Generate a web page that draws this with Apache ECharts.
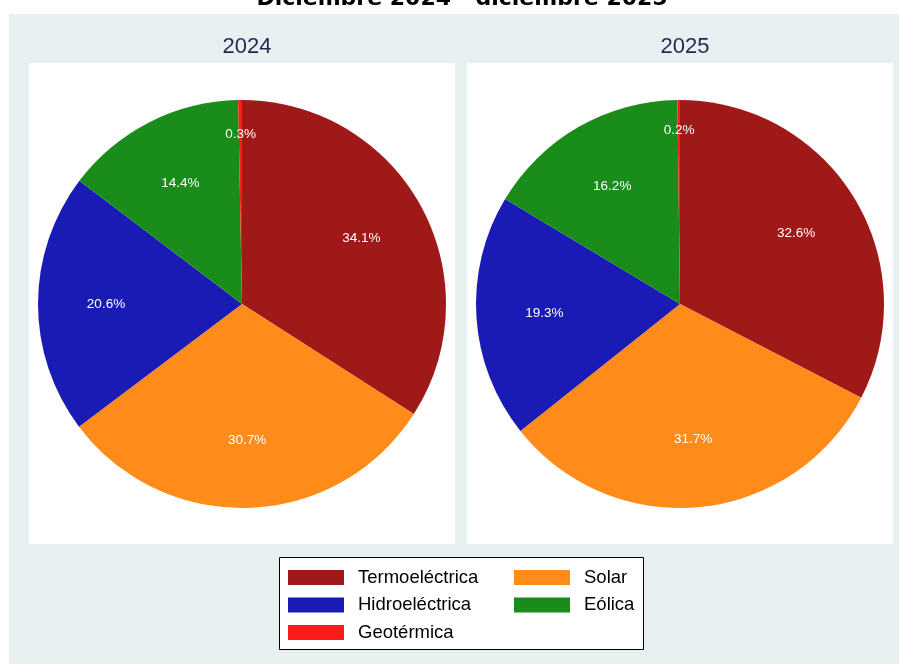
<!DOCTYPE html>
<html>
<head>
<meta charset="utf-8">
<script src="https://cdn.jsdelivr.net/npm/echarts@6/dist/echarts.min.js"></script>
<style>
  html, body { margin: 0; padding: 0; background: #fff; }
  #chart { width: 899px; height: 664px; }
</style>
</head>
<body>
<div id="chart"></div>
<script>
// datos
var years = ['2024', '2025'];
var categories = ['Termoeléctrica', 'Solar', 'Hidroeléctrica', 'Eólica', 'Geotérmica'];
var values2024 = [34.1, 30.7, 20.6, 14.4, 0.3];
var values2025 = [32.6, 31.7, 19.3, 16.2, 0.2];
var palette = ['#a01919', '#ff8b1a', '#1a1ab4', '#1a8c1a', '#ff1a1a'];

var chart = echarts.init(document.getElementById('chart'));

function pieData(vals) {
  return categories.map(function (c, i) {
    return { name: c, value: vals[i], itemStyle: { color: palette[i] } };
  });
}

function makeSeries(vals, cx, smallDy) {
  // pastel sin etiquetas
  var base = {
    type: 'pie',
    center: [cx, 304],
    radius: [0, 204],
    startAngle: 90,
    clockwise: true,
    avoidLabelOverlap: false,
    silent: true,
    label: { show: false },
    labelLine: { show: false },
    emphasis: { disabled: true },
    data: pieData(vals)
  };
  // capa transparente solo para las etiquetas (a 2/3 del radio)
  var labels = {
    type: 'pie',
    center: [cx, 304],
    radius: [62, 204],
    startAngle: 90,
    clockwise: true,
    avoidLabelOverlap: false,
    silent: true,
    itemStyle: { color: 'rgba(0,0,0,0)' },
    label: {
      show: true,
      position: 'inside',
      color: '#fff',
      fontSize: 13.5,
      fontFamily: 'Liberation Sans, Arial, sans-serif',
      formatter: function (p) { return p.value.toFixed(1) + '%'; }
    },
    labelLine: { show: false },
    labelLayout: function (p) {
      if (p.dataIndex === 4) return { dy: smallDy };
      return {};
    },
    emphasis: { disabled: true },
    data: categories.map(function (c, i) { return { name: c, value: vals[i] }; })
  };
  return [base, labels];
}

var legendCommon = {
  orient: 'vertical',
  top: 568,
  padding: 0,
  itemWidth: 56,
  itemHeight: 15,
  itemGap: 8.5,
  icon: 'rect',
  selectedMode: false,
  textStyle: {
    color: '#000',
    fontSize: 18.5,
    fontFamily: 'Liberation Sans, Arial, sans-serif',
    padding: [0, 0, 0, 9]
  }
};

chart.setOption({
  animation: false,
  title: [
    {
      text: 'Diciembre 2024 - diciembre 2025',
      left: 457,
      textAlign: 'center',
      top: -17,
      textStyle: { fontFamily: 'DejaVu Sans', fontWeight: 'bold', fontSize: 22, color: '#000' }
    },
    {
      text: years[0],
      left: 242,
      top: 31,
      textAlign: 'center',
      textStyle: { fontFamily: 'Liberation Sans, Arial', fontWeight: 'normal', fontSize: 22, color: '#1e2b52' }
    },
    {
      text: years[1],
      left: 680,
      top: 31,
      textAlign: 'center',
      textStyle: { fontFamily: 'Liberation Sans, Arial', fontWeight: 'normal', fontSize: 22, color: '#1e2b52' }
    }
  ],
  graphic: [
    { type: 'rect', z: -10, shape: { x: 9, y: 14, width: 890, height: 650 }, style: { fill: '#e8f0f2' } },
    { type: 'rect', z: -9, shape: { x: 29, y: 63, width: 426, height: 481 }, style: { fill: '#fff' } },
    { type: 'rect', z: -9, shape: { x: 467, y: 63, width: 426, height: 481 }, style: { fill: '#fff' } },
    { type: 'rect', z: -9, shape: { x: 279.5, y: 557.5, width: 364, height: 92 }, style: { fill: '#fff', stroke: '#000', lineWidth: 1 } }
  ],
  legend: [
    Object.assign({ left: 288, data: [categories[0], categories[2], categories[4]] }, legendCommon),
    Object.assign({ left: 514, data: [categories[1], categories[3]] }, legendCommon)
  ],
  series: makeSeries(values2024, 242, -34).concat(makeSeries(values2025, 680, -38))
});
</script>
</body>
</html>
